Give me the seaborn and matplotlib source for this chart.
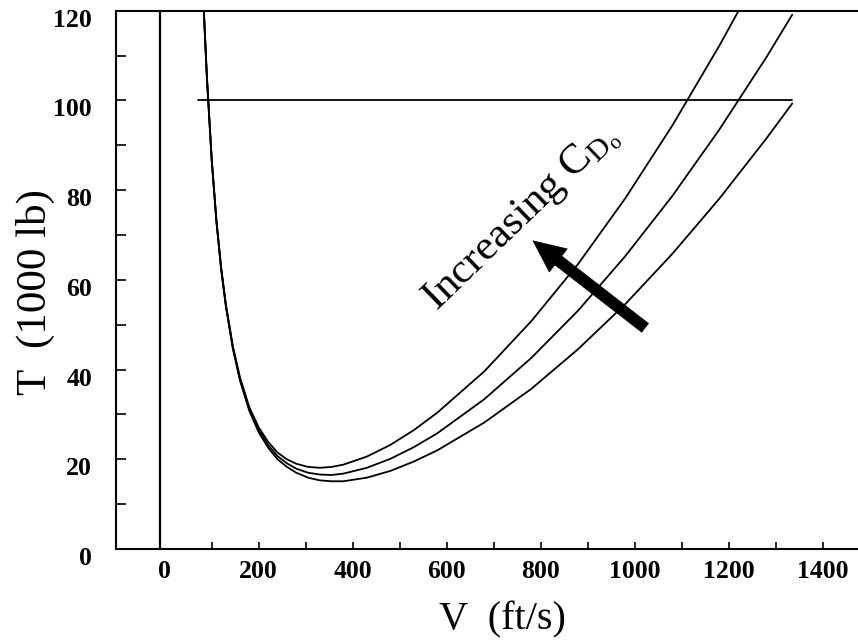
import matplotlib
matplotlib.use("Agg")
import numpy as np
import pandas as pd
import matplotlib.pyplot as plt
import seaborn as sns
from matplotlib.transforms import ScaledTranslation

# ---- data (V in ft/s, T in 1000 lb) ----
V_A = [83, 85, 90, 100, 110, 120, 130, 145, 160, 180, 200, 220, 240, 260, 280, 305, 330, 355, 380, 430,
       480, 530, 580, 680, 780, 880, 980, 1080, 1180, 1221]
T_A = [120.9, 115.9, 104.8, 86.9, 73.3, 62.8, 54.6, 45.2, 38.3, 31.6, 27.1, 23.9, 21.5, 20.0, 19.0, 18.3,
       18.1, 18.3, 18.8, 20.6, 23.2, 26.5, 30.4, 39.6, 50.8, 63.6, 78.2, 94.4, 112.2, 120.0]
V_BC = [83, 85, 90, 100, 110, 120, 130, 145, 160, 180, 200, 220, 240, 260, 280, 305, 330, 355, 380, 430,
        480, 530, 580, 680, 780, 880, 980, 1080, 1180, 1280, 1335]
T_B = [120.8, 115.8, 104.7, 86.7, 73.1, 62.6, 54.4, 44.9, 37.9, 31.2, 26.5, 23.2, 20.7, 19.1, 17.9, 17.0,
       16.6, 16.5, 16.8, 18.1, 20.1, 22.7, 25.8, 33.4, 42.6, 53.2, 65.3, 78.7, 93.5, 109.6, 119.1]
T_C = [120.7, 115.7, 104.6, 86.6, 73.0, 62.4, 54.2, 44.6, 37.6, 30.8, 26.0, 22.6, 20.0, 18.3, 17.0, 15.9,
       15.3, 15.1, 15.1, 15.9, 17.4, 19.5, 22.0, 28.2, 35.7, 44.6, 54.6, 65.8, 78.1, 91.5, 99.3]
CURVES = ["high", "mid", "low"]

T_AVAIL = 100            # horizontal thrust-available line
T_AVAIL_V = [70, 1335]   # its extent
V_AXIS = -10             # vertical line drawn near V = 0

X_TICKS = list(range(0, 1500, 100))
X_LABELS = [str(v) if v % 200 == 0 else "" for v in X_TICKS]
Y_TICKS = list(range(0, 130, 10))
Y_LABELS = [str(v) if v % 20 == 0 else "" for v in Y_TICKS]

ANNOT_TEXT = r"Increasing $\mathregular{C_{D_o}}$"
ANNOT_POS = (758, 74.0)
ARROW_TAIL = (1022, 49.3)
ARROW_TIP = (783.6, 68.7)

df = pd.concat([
    pd.DataFrame({"V": V_A, "T": T_A, "curve": CURVES[0]}),
    pd.DataFrame({"V": V_BC, "T": T_B, "curve": CURVES[1]}),
    pd.DataFrame({"V": V_BC, "T": T_C, "curve": CURVES[2]}),
])

sns.set_theme(style="white")
plt.rcParams["font.family"] = ["Liberation Serif", "DejaVu Serif"]
plt.rcParams["mathtext.fontset"] = "custom"
plt.rcParams["mathtext.rm"] = "Liberation Serif"
plt.rcParams["mathtext.it"] = "Liberation Serif:italic"
plt.rcParams["mathtext.bf"] = "Liberation Serif:bold"

fig = plt.figure(figsize=(8.58, 6.44), dpi=100)
ax = fig.add_axes([115.5 / 858, 95 / 644, 742.5 / 858, 538.3 / 644])

sns.lineplot(data=df, x="V", y="T", hue="curve", palette=["black"] * 3,
             legend=False, sort=False, estimator=None, lw=1.3, ax=ax)
ax.plot(T_AVAIL_V, [T_AVAIL, T_AVAIL], color="black", lw=1.3)
ax.axvline(V_AXIS, color="black", lw=1.6)

ax.set_xlim(-104.7, 1475)
ax.set_ylim(0, 120)

ax.set_xticks(X_TICKS)
ax.set_xticklabels(X_LABELS, fontweight="bold")
ax.set_yticks(Y_TICKS)
ax.set_yticklabels(Y_LABELS, fontweight="bold")
ax.tick_params(axis="x", which="both", bottom=True, top=False, direction="in", length=5,
               width=1.2, labelsize=18.5, pad=7.6, colors="black")
ax.tick_params(axis="y", which="both", left=True, right=False, direction="in", length=7,
               width=1.2, labelsize=18.5, pad=17, colors="black")
ax.xaxis.get_major_ticks()[0].tick1line.set_visible(False)
off = ScaledTranslation(0, -7 / 100, fig.dpi_scale_trans)
for lbl in ax.get_yticklabels():
    lbl.set_transform(lbl.get_transform() + off)

for side in ["left", "bottom", "top"]:
    ax.spines[side].set_color("black")
    ax.spines[side].set_linewidth(1.5)
ax.spines["right"].set_visible(False)

ax.set_xlabel("V  (ft/s)", fontsize=29, color="black")
ax.xaxis.set_label_coords(0.521, -0.0966)
ax.set_ylabel("T  (1000 lb)", fontsize=31, color="black")
ax.yaxis.set_label_coords(-0.0818, 0.478)

ax.text(*ANNOT_POS, ANNOT_TEXT, rotation=44, rotation_mode="anchor",
        ha="center", va="center", fontsize=31, color="black")
ax.annotate("", xy=ARROW_TIP, xytext=ARROW_TAIL,
            arrowprops=dict(arrowstyle="simple,head_length=1.15,head_width=1.05,tail_width=0.4",
                            mutation_scale=20, fc="black", ec="black", lw=0.5,
                            shrinkA=0, shrinkB=0))

fig.savefig("out.png", dpi=100)
